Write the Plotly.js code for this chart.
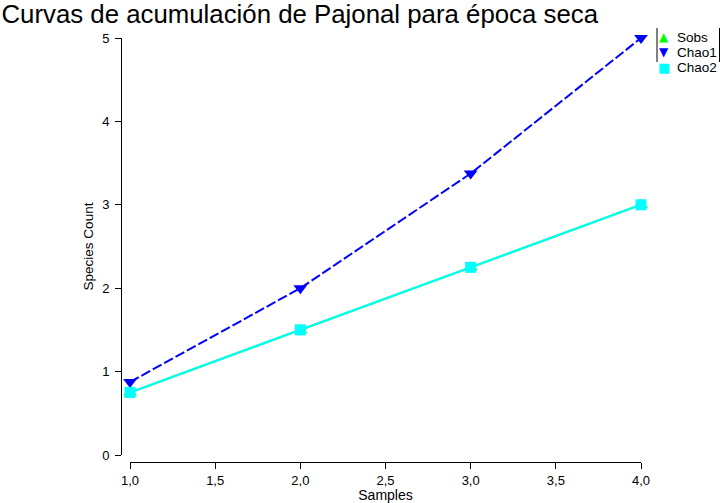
<!DOCTYPE html>
<html>
<head>
<meta charset="utf-8">
<script src="https://cdn.plot.ly/plotly-3.0.1.min.js"></script>
<style>html,body{margin:0;padding:0;background:#fff;}#chart{width:721px;height:503px;}</style>
</head>
<body>
<div id="chart"></div>
<script>
const samples = [1, 2, 3, 4];
const sobs = [0.75, 1.5, 2.25, 3.0];
const chao1 = [0.875, 2.0, 3.375, 5.0];
const chao2 = [0.75, 1.5, 2.25, 3.0];
const seriesNames = ["Sobs", "Chao1", "Chao2"];
const seriesColors = ["#00FF00", "#0000FF", "#00FFFF"];
const legendGlyphs = ["▲", "▼", "■"];
const xTicks = [1, 1.5, 2, 2.5, 3, 3.5, 4];
const yTicks = [0, 1, 2, 3, 4, 5];

const font = "Arial, 'Liberation Sans', sans-serif";
const L = 121, R = 641, T = 38, B = 462;
const W = R - L, H = B - T;
const px = v => (v - L) / W;
const py = v => (B - v) / H;

const traces = [
  {x: samples, y: sobs, mode: "lines+markers", name: seriesNames[0], cliponaxis: false,
   line: {color: seriesColors[0], width: 2}, marker: {symbol: "triangle-up", color: seriesColors[0], size: 12}},
  {x: samples, y: chao1, mode: "lines+markers", name: seriesNames[1], cliponaxis: false,
   line: {color: seriesColors[1], width: 2, dash: "10px,3px"}, marker: {symbol: "triangle-down", color: seriesColors[1], size: 12}},
  {x: samples, y: chao2, mode: "lines+markers", name: seriesNames[2], cliponaxis: false,
   line: {color: seriesColors[2], width: 2}, marker: {symbol: "square", color: seriesColors[2], size: 11}}
];

const legendY = [37, 52, 67];
const annotations = [];
seriesNames.forEach((n, i) => {
  annotations.push({xref: "paper", yref: "paper", x: px(664), y: py(legendY[i]), xanchor: "center", yanchor: "middle",
    text: legendGlyphs[i], showarrow: false, font: {family: "DejaVu Sans", size: i === 2 ? 13 : 12, color: seriesColors[i]}});
  annotations.push({xref: "paper", yref: "paper", x: px(675), y: py(legendY[i]), xanchor: "left", yanchor: "middle",
    text: n, showarrow: false, font: {family: font, size: 13.5, color: "#000"}});
});

const axCommon = {showgrid: false, zeroline: false, tickwidth: 1, tickcolor: "#000"};

const layout = {
  width: 721, height: 503,
  paper_bgcolor: "#fff", plot_bgcolor: "#fff",
  separators: ", ",
  font: {family: font, size: 12, color: "#000"},
  margin: {l: L, r: 721 - R, t: T, b: 503 - B, pad: 0},
  title: {text: "Curvas de acumulación de Pajonal para época seca", font: {family: font, size: 25.8, color: "#000"},
          x: 0.002, xanchor: "left", xref: "container", y: 1 - 14 / 503, yanchor: "middle", yref: "container", pad: {t: 0, l: 0}},
  showlegend: false,
  annotations: annotations,
  xaxis: Object.assign({range: [1, 4], domain: [9 / W, 1], anchor: "free", position: 0,
          tickvals: xTicks, tickformat: ".1f", ticks: "outside", ticklen: 6,
          showline: true, linecolor: "#000", linewidth: 1,
          tickfont: {family: font, size: 13},
          title: {text: "Samples", font: {family: font, size: 14}, standoff: 1}}, axCommon),
  yaxis: Object.assign({range: [0, 5], domain: [7 / H, 1], anchor: "free", position: 0,
          tickvals: yTicks, tickformat: "d", ticks: "outside", ticklen: 6,
          showline: true, linecolor: "#000", linewidth: 1,
          ticklabelstandoff: 3,
          tickfont: {family: font, size: 13},
          title: {text: "Species Count", font: {family: font, size: 13.5}, standoff: 4}}, axCommon),
  xaxis2: Object.assign({range: [1, 4], domain: [9 / W, 1], anchor: "free", position: 0, overlaying: "x",
          tickvals: xTicks, ticks: "inside", ticklen: 3, showline: false, showticklabels: false}, axCommon),
  yaxis2: Object.assign({range: [0, 5], domain: [7 / H, 1], anchor: "free", position: 0, overlaying: "y",
          tickvals: yTicks, ticks: "inside", ticklen: 6, showline: false, showticklabels: false}, axCommon),
  shapes: [
    {type: "line", xref: "paper", yref: "paper", x0: px(657), x1: px(657), y0: py(28), y1: py(62), line: {color: "#000", width: 1}},
    {type: "line", xref: "paper", yref: "paper", x0: px(719.5), x1: px(719.5), y0: py(28), y1: py(62), line: {color: "#000", width: 1}}
  ]
};

Plotly.newPlot("chart", traces, layout, {displayModeBar: false, staticPlot: true});
</script>
</body>
</html>
